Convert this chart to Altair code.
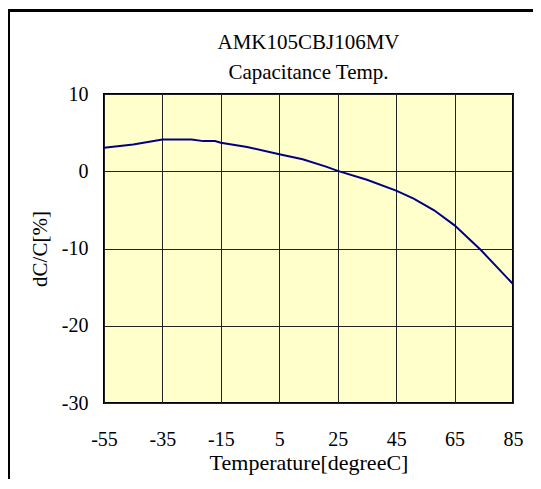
import altair as alt
import pandas as pd

# Data
temperature = [-55, -45, -35, -29, -25, -21, -17, -15, -6, 5, 13, 21, 25, 35, 45, 51, 58, 65, 74, 85]
dcc = [3.05, 3.45, 4.1, 4.1, 4.1, 3.9, 3.9, 3.7, 3.15, 2.2, 1.55, 0.6, 0.05, -1.1, -2.5, -3.55, -5.05, -7.0, -10.2, -14.6]
x_ticks = [-55, -35, -15, 5, 25, 45, 65, 85]
y_ticks = [-30, -20, -10, 0, 10]
title_lines = ["AMK105CBJ106MV", "Capacitance Temp."]

df = pd.DataFrame({"T": temperature, "V": dcc})

FONT = "Liberation Serif"
W, H = 409, 309

line = alt.Chart(df).mark_line(color="#000080", strokeWidth=2, clip=True).encode(
    x=alt.X("T:Q",
            scale=alt.Scale(domain=[-55, 85], nice=False, zero=False),
            axis=alt.Axis(values=x_ticks, title="Temperature[degreeC]",
                          labelExpr="'' + datum.value",
                          grid=True, gridColor="#222", gridWidth=1, gridOpacity=1,
                          domain=False, ticks=False,
                          labelFont=FONT, labelFontSize=20, labelColor="black",
                          labelPadding=26, labelFlush=False,
                          titleFont=FONT, titleFontSize=22, titleFontWeight="normal",
                          titleColor="black", titlePadding=3)),
    y=alt.Y("V:Q",
            scale=alt.Scale(domain=[-30, 10], nice=False, zero=False),
            axis=alt.Axis(values=y_ticks, title="dC/C[%]",
                          labelExpr="'' + datum.value",
                          grid=True, gridColor="#222", gridWidth=1, gridOpacity=1,
                          domain=False, ticks=False,
                          labelFont=FONT, labelFontSize=20, labelColor="black",
                          labelPadding=16, labelFlush=False,
                          titleFont=FONT, titleFontSize=21, titleFontWeight="normal",
                          titleColor="black", titlePadding=11)),
)

frame = alt.Chart(df).mark_rect(fill=None, stroke="black", strokeWidth=1.5, clip=False).encode(
    x=alt.value(-95.5), x2=alt.value(460),
    y=alt.value(-83.5), y2=alt.value(420),
)

t1 = alt.Chart(pd.DataFrame({"t": [title_lines[0]]})).mark_text(
    font=FONT, fontSize=21, align="center", baseline="alphabetic", color="black"
).encode(text="t:N", x=alt.value(W / 2), y=alt.value(-45.5))

t2 = alt.Chart(pd.DataFrame({"t": [title_lines[1]]})).mark_text(
    font=FONT, fontSize=21, align="center", baseline="alphabetic", color="black"
).encode(text="t:N", x=alt.value(W / 2), y=alt.value(-15.5))

chart = alt.layer(frame, line, t1, t2).properties(
    width=W, height=H,
    background="white",
    autosize=alt.AutoSizeParams(type="none"),
    padding={"left": 96, "top": 86, "right": 20, "bottom": 76},
).configure_view(
    fill="#FFFFCC", stroke="black", strokeWidth=2
)

chart.save("out.html", embed_options={"renderer": "svg", "actions": False})
